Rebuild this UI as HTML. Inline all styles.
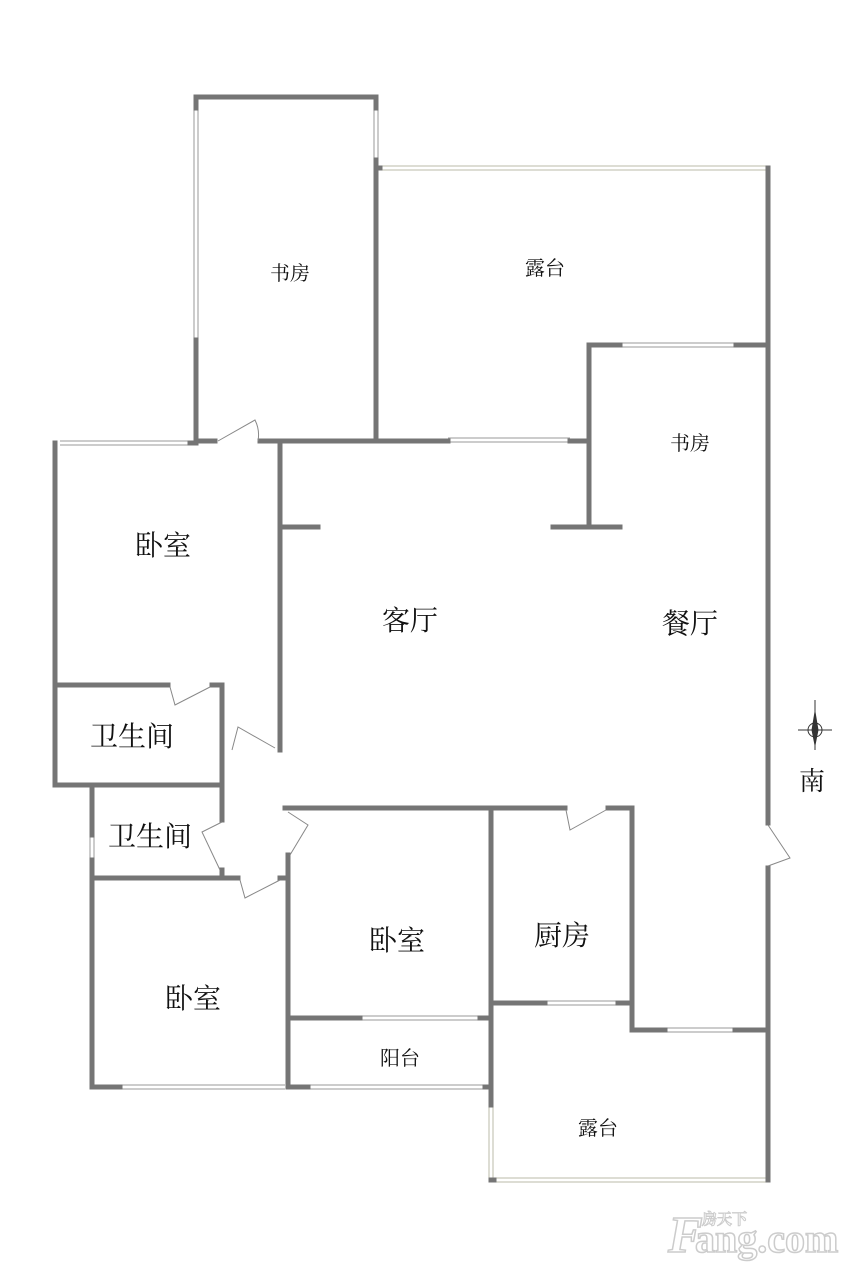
<!DOCTYPE html>
<html><head><meta charset="utf-8"><style>
html,body{margin:0;padding:0;background:#fff;}
svg{display:block;}
text{font-family:"Liberation Serif","Noto Serif CJK SC","Noto Sans CJK SC",serif;fill:#111;}
</style></head><body>
<svg width="865" height="1280" viewBox="0 0 865 1280" xmlns="http://www.w3.org/2000/svg">
<rect width="865" height="1280" fill="#fff"/>
<!-- windows (thin double lines) -->
<g stroke="#999" stroke-width="1" fill="none">
<line x1="378" y1="166" x2="766" y2="166" stroke="#bba"/><line x1="378" y1="170" x2="766" y2="170" stroke="#bba"/>
<line x1="194" y1="108" x2="194" y2="340"/><line x1="198" y1="108" x2="198" y2="340"/>
<line x1="374" y1="100" x2="374" y2="160"/><line x1="378" y1="100" x2="378" y2="160"/>
<line x1="620" y1="343" x2="736" y2="343"/><line x1="620" y1="347" x2="736" y2="347"/>
<line x1="448" y1="438" x2="570" y2="438"/><line x1="448" y1="442" x2="570" y2="442"/>
<line x1="60" y1="441" x2="190" y2="441"/><line x1="60" y1="445" x2="190" y2="445"/>
<line x1="360" y1="1016" x2="480" y2="1016"/><line x1="360" y1="1020" x2="480" y2="1020"/>
<line x1="545" y1="1001" x2="618" y2="1001"/><line x1="545" y1="1005" x2="618" y2="1005"/>
<line x1="120" y1="1085" x2="285" y2="1085"/><line x1="120" y1="1089" x2="285" y2="1089"/>
<line x1="308" y1="1085" x2="488" y2="1085"/><line x1="308" y1="1089" x2="488" y2="1089"/>
<line x1="665" y1="1028" x2="735" y2="1028"/><line x1="665" y1="1032" x2="735" y2="1032"/>
<line x1="494" y1="1178" x2="766" y2="1178" stroke="#bba"/><line x1="494" y1="1182" x2="766" y2="1182" stroke="#bba"/>
<line x1="489" y1="1105" x2="489" y2="1180" stroke="#bba"/><line x1="493" y1="1105" x2="493" y2="1180" stroke="#bba"/>
<line x1="90" y1="835" x2="90" y2="860"/><line x1="94" y1="835" x2="94" y2="860"/>
<line x1="62" y1="783" x2="82" y2="783"/><line x1="62" y1="787" x2="82" y2="787"/>
</g>
<!-- walls -->
<g stroke="#757575" stroke-width="5" fill="none" stroke-linecap="square">
<polyline points="196,108 196,97 376,97 376,108"/>
<line x1="196" y1="340" x2="196" y2="440"/>
<line x1="376" y1="160" x2="376" y2="440"/>
<line x1="376" y1="168" x2="380" y2="168"/>
<line x1="768" y1="168" x2="768" y2="823"/>
<line x1="768" y1="868" x2="768" y2="1180"/>
<polyline points="620,527 589,527 589,345 620,345"/>
<line x1="736" y1="345" x2="768" y2="345"/>
<line x1="553" y1="527" x2="589" y2="527"/>
<line x1="196" y1="441" x2="215" y2="441"/>
<line x1="260" y1="441" x2="448" y2="441"/>
<line x1="570" y1="441" x2="589" y2="441"/>
<polyline points="55,443 55,785 82,785"/>
<line x1="190" y1="443" x2="196" y2="443"/>
<line x1="280" y1="443" x2="280" y2="750"/>
<line x1="280" y1="527" x2="318" y2="527"/>
<polyline points="55,685 168,685"/>
<polyline points="212,685 222,685 222,820"/>
<line x1="222" y1="870" x2="222" y2="878"/>
<line x1="82" y1="785" x2="222" y2="785"/>
<polyline points="92,785 92,835"/>
<polyline points="92,860 92,1087 120,1087"/>
<line x1="92" y1="878" x2="238" y2="878"/>
<line x1="280" y1="878" x2="288" y2="878"/>
<polyline points="288,855 288,1087 308,1087"/>
<polyline points="285,808 565,808"/>
<polyline points="608,808 632,808 632,1030 665,1030"/>
<line x1="735" y1="1030" x2="768" y2="1030"/>
<line x1="491" y1="808" x2="491" y2="1105"/>
<line x1="288" y1="1018" x2="360" y2="1018"/>
<line x1="480" y1="1018" x2="491" y2="1018"/>
<line x1="491" y1="1003" x2="545" y2="1003"/>
<line x1="618" y1="1003" x2="632" y2="1003"/>
<line x1="485" y1="1087" x2="491" y2="1087"/>
<line x1="491" y1="1180" x2="494" y2="1180"/>
</g>
<!-- doors -->
<g stroke="#888" stroke-width="1" fill="none">
<path d="M218 441 L255 420 Q260 430 258 441"/>
<path d="M170 687 L175 705 L210 687"/>
<path d="M232 750 L238 727 L275 748"/>
<path d="M222 822 L202 832 L220 870"/>
<path d="M240 880 L245 898 L280 880"/>
<path d="M288 812 L308 825 L290 855"/>
<path d="M566 810 L570 830 L606 810"/>
<path d="M768 825 L790 858 L768 866"/>
</g>
<!-- labels -->
<text x="290" y="280" font-size="20" text-anchor="middle">书房</text>
<text x="545" y="275" font-size="20" text-anchor="middle">露台</text>
<text x="690" y="450" font-size="20" text-anchor="middle">书房</text>
<text x="163" y="555" font-size="28" text-anchor="middle">卧室</text>
<text x="410" y="630" font-size="28" text-anchor="middle">客厅</text>
<text x="690" y="633" font-size="28" text-anchor="middle">餐厅</text>
<text x="132" y="746" font-size="28" text-anchor="middle">卫生间</text>
<text x="150" y="846" font-size="28" text-anchor="middle">卫生间</text>
<text x="397" y="950" font-size="28" text-anchor="middle">卧室</text>
<text x="562" y="945" font-size="28" text-anchor="middle">厨房</text>
<text x="193" y="1008" font-size="28" text-anchor="middle">卧室</text>
<text x="400" y="1065" font-size="20" text-anchor="middle">阳台</text>
<text x="598" y="1135" font-size="20" text-anchor="middle">露台</text>
<text x="812" y="790" font-size="26" text-anchor="middle">南</text>
<!-- compass -->
<g stroke="#333" stroke-width="1" fill="none">
<circle cx="815" cy="730" r="7"/>
<line x1="815" y1="700" x2="815" y2="750"/>
<line x1="798" y1="730" x2="832" y2="730"/>
<path d="M815 712 L818 730 L815 745 L812 730 Z" fill="#333"/>
</g>
<!-- watermark -->
<g font-family="Liberation Sans,sans-serif" font-weight="bold" fill="#fff" stroke="#ccc" stroke-width="1.5">
<text x="668" y="1252" font-size="52" style="fill:#fff" font-style="italic">F</text>
<text x="695" y="1252" font-size="40" style="fill:#fff">ang.com</text>
<text x="702" y="1224" font-size="15" style="fill:#fff" stroke-width="1">房天下</text>
</g>
</svg>
</body></html>
